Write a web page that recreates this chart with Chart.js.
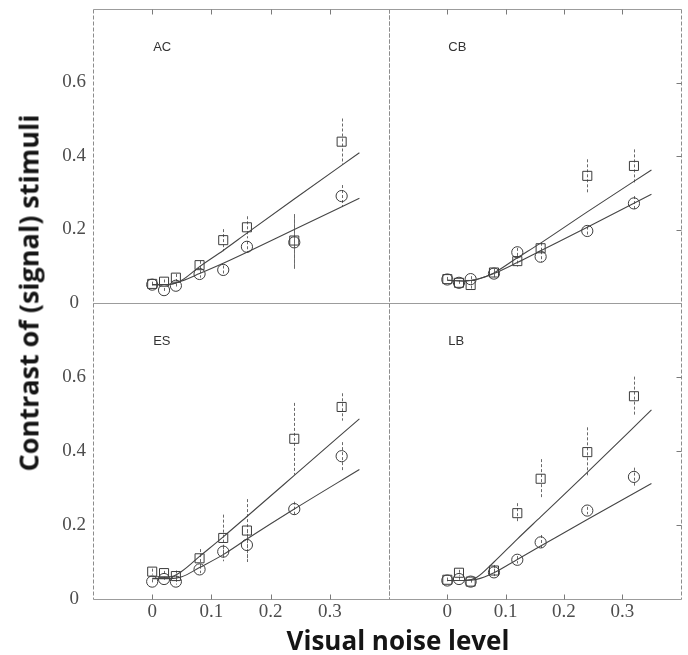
<!DOCTYPE html>
<html>
<head>
<meta charset="utf-8">
<title>Contrast of (signal) stimuli vs visual noise level</title>
<script src="https://cdn.jsdelivr.net/npm/chart.js@4.4.1/dist/chart.umd.min.js"></script>
<style>
  html, body { margin: 0; padding: 0; background: #fff; }
  #figure { position: relative; width: 688px; height: 655px; overflow: hidden; }
  #figure canvas { position: absolute; left: 0; top: 0; }
  .axis-title {
    position: absolute;
    font-family: "Open Sans", sans-serif;
    font-weight: 700;
    color: #151515;
    white-space: nowrap;
    line-height: 1;
  }
  #xTitle { left: 398px; top: 627px; font-size: 26px; transform: translateX(-50%); }
  #yTitle { left: 28px; top: 293px; font-size: 27px; transform: translate(-50%, -50%) rotate(-90deg); }
</style>
</head>
<body>
<div id="figure">
  <canvas id="panelAC" width="688" height="655"></canvas>
  <canvas id="panelCB" width="688" height="655"></canvas>
  <canvas id="panelES" width="688" height="655"></canvas>
  <canvas id="panelLB" width="688" height="655"></canvas>
  <div class="axis-title" id="xTitle">Visual noise level</div>
  <div class="axis-title" id="yTitle">Contrast of (signal) stimuli</div>
</div>
<script>
// noise levels where thresholds were measured
const noiseLevels = [0, 0.02, 0.04, 0.08, 0.12, 0.16, 0.24, 0.32];
// noise levels sampled along the fitted curves
const fitLevels = [0, 0.03, 0.05, 0.08, 0.12, 0.16, 0.24, 0.35];
const xTickValues = [0, 0.1, 0.2, 0.3];
const yTickValues = [0, 0.2, 0.4, 0.6];
const observers = ["AC", "CB", "ES", "LB"];

// AC
const acSquare = [0.052, 0.058, 0.069, 0.103, 0.171, 0.206, 0.170, 0.439];
const acSquareErr = [0.006, 0.006, 0.01, 0.012, 0.03, 0.03, 0.072, 0.063];
const acCircle = [0.050, 0.035, 0.047, 0.079, 0.090, 0.153, 0.165, 0.291];
const acCircleErr = [0.006, 0.006, 0.006, 0.01, 0.012, 0.015, 0.072, 0.03];
const acFitSquare = [0.05, 0.051, 0.062, 0.099, 0.143, 0.19, 0.283, 0.409];
const acFitCircle = [0.05, 0.051, 0.06, 0.08, 0.108, 0.138, 0.2, 0.285];

// CB
const cbSquare = [0.065, 0.055, 0.049, 0.083, 0.114, 0.149, 0.346, 0.373];
const cbSquareErr = [0.006, 0.006, 0.012, 0.01, 0.015, 0.015, 0.045, 0.045];
const cbCircle = [0.064, 0.055, 0.065, 0.080, 0.138, 0.126, 0.196, 0.271];
const cbCircleErr = [0.006, 0.006, 0.008, 0.01, 0.012, 0.015, 0.012, 0.02];
const cbFitSquare = [0.062, 0.06, 0.064, 0.082, 0.123, 0.163, 0.248, 0.362];
const cbFitCircle = [0.062, 0.06, 0.064, 0.08, 0.11, 0.142, 0.206, 0.296];

// ES
const esSquare = [0.074, 0.070, 0.062, 0.110, 0.165, 0.185, 0.433, 0.519];
const esSquareErr = [0.008, 0.006, 0.015, 0.025, 0.063, 0.085, 0.097, 0.037];
const esCircle = [0.047, 0.054, 0.047, 0.080, 0.128, 0.146, 0.243, 0.386];
const esCircleErr = [0.006, 0.006, 0.008, 0.01, 0.015, 0.04, 0.02, 0.038];
const esFitSquare = [0.06, 0.06, 0.075, 0.115, 0.168, 0.223, 0.334, 0.487];
const esFitCircle = [0.055, 0.055, 0.06, 0.085, 0.12, 0.162, 0.243, 0.35];

// LB
const lbSquare = [0.052, 0.071, 0.047, 0.077, 0.232, 0.325, 0.397, 0.548];
const lbSquareErr = [0.006, 0.008, 0.006, 0.015, 0.027, 0.053, 0.067, 0.053];
const lbCircle = [0.050, 0.054, 0.047, 0.072, 0.106, 0.153, 0.239, 0.330];
const lbCircleErr = [0.006, 0.006, 0.006, 0.01, 0.01, 0.02, 0.01, 0.025];
const lbFitSquare = [0.05, 0.05, 0.058, 0.1, 0.162, 0.222, 0.342, 0.511];
const lbFitCircle = [0.05, 0.05, 0.053, 0.071, 0.107, 0.143, 0.215, 0.312];

const observerData = {
  AC: { square: acSquare, squareErr: acSquareErr, circle: acCircle, circleErr: acCircleErr, fitSquare: acFitSquare, fitCircle: acFitCircle },
  CB: { square: cbSquare, squareErr: cbSquareErr, circle: cbCircle, circleErr: cbCircleErr, fitSquare: cbFitSquare, fitCircle: cbFitCircle },
  ES: { square: esSquare, squareErr: esSquareErr, circle: esCircle, circleErr: esCircleErr, fitSquare: esFitSquare, fitCircle: esFitCircle },
  LB: { square: lbSquare, squareErr: lbSquareErr, circle: lbCircle, circleErr: lbCircleErr, fitSquare: lbFitSquare, fitCircle: lbFitCircle },
};

// panel rectangles on the page: left, top, right, bottom
const panelBoxes = [
  [93, 9, 389, 303],
  [389, 9, 684, 303],
  [93, 303, 389, 599],
  [389, 303, 684, 599],
];
const pageW = 688;
const pageH = 655;

const toPoints = (xs, ys) => xs.map((x, i) => ({ x, y: ys[i] }));
const crisp = v => Math.round(v) + 0.5;

// box outline, inward tick marks and the observer tag
const panelFrame = {
  id: "panelFrame",
  beforeDatasetsDraw(chart, args, opts) {
    const { ctx, chartArea: a, scales } = chart;
    const L = crisp(a.left), R = crisp(a.right), T = crisp(a.top), B = crisp(a.bottom);
    ctx.save();
    ctx.lineWidth = 1;
    ctx.strokeStyle = "#9c9c9c";
    ctx.beginPath();
    ctx.moveTo(L, T); ctx.lineTo(R, T);
    ctx.moveTo(L, B); ctx.lineTo(R, B);
    ctx.stroke();

    ctx.setLineDash([4, 2]);
    ctx.strokeStyle = "#8c8c8c";
    ctx.beginPath();
    ctx.moveTo(L, T); ctx.lineTo(L, B);
    ctx.moveTo(R, T); ctx.lineTo(R, B);
    ctx.stroke();
    ctx.setLineDash([]);

    ctx.strokeStyle = "#7a7a7a";
    ctx.beginPath();
    xTickValues.forEach(v => {
      const x = crisp(scales.x.getPixelForValue(v));
      if (opts.topTicks) { ctx.moveTo(x, T); ctx.lineTo(x, T + 5); }
      if (opts.bottomTicks) { ctx.moveTo(x, B); ctx.lineTo(x, B - 5); }
    });
    if (opts.rightTicks) {
      yTickValues.filter(v => v > 0).forEach(v => {
        const y = crisp(scales.y.getPixelForValue(v));
        ctx.moveTo(R, y); ctx.lineTo(R - 5, y);
      });
    }
    ctx.stroke();

    ctx.fillStyle = "#333";
    ctx.font = "13px 'Liberation Sans', Arial, sans-serif";
    ctx.textBaseline = "middle";
    ctx.fillText(opts.label, scales.x.getPixelForValue(0) + 1, a.top + 38);
    ctx.restore();
  },
};

// dashed vertical error bars for any dataset carrying an `errors` array
const errorBars = {
  id: "errorBars",
  beforeDatasetsDraw(chart) {
    const { ctx, scales: { x, y } } = chart;
    ctx.save();
    ctx.strokeStyle = "#6a6a6a";
    ctx.lineWidth = 1;
    ctx.setLineDash([3, 2]);
    chart.data.datasets.forEach(ds => {
      if (!ds.errors) return;
      ds.data.forEach((p, i) => {
        const e = ds.errors[i];
        const px = crisp(x.getPixelForValue(p.x));
        ctx.beginPath();
        ctx.moveTo(px, y.getPixelForValue(p.y + e));
        ctx.lineTo(px, y.getPixelForValue(p.y - e));
        ctx.stroke();
      });
    });
    ctx.restore();
  },
};

// tick numbers are set in a Times-like face
Chart.defaults.font.family = "'Liberation Serif', 'Times New Roman', serif";
Chart.defaults.font.size = 19;
Chart.defaults.color = "#4d4d4d";

const drawPanels = () => {
  observers.forEach((name, idx) => {
    const d = observerData[name];
    const [left, top, right, bottom] = panelBoxes[idx];
    const col = idx % 2;
    const row = Math.floor(idx / 2);
    const yAxisW = col === 0 ? left : 0;
    const xAxisH = row === 1 ? pageH - bottom : 0;

    new Chart(document.getElementById("panel" + name), {
      type: "scatter",
      data: {
        datasets: [
          {
            type: "line",
            data: toPoints(fitLevels, d.fitSquare),
            borderColor: "#454545",
            borderWidth: 1.1,
            pointRadius: 0,
            cubicInterpolationMode: "monotone",
          },
          {
            type: "line",
            data: toPoints(fitLevels, d.fitCircle),
            borderColor: "#454545",
            borderWidth: 1.1,
            pointRadius: 0,
            cubicInterpolationMode: "monotone",
          },
          {
            data: toPoints(noiseLevels, d.square),
            errors: d.squareErr,
            pointStyle: "rect",
            pointRadius: 6.4,
            borderColor: "#3c3c3c",
            borderWidth: 1,
            backgroundColor: "rgba(0,0,0,0)",
          },
          {
            data: toPoints(noiseLevels, d.circle),
            errors: d.circleErr,
            pointStyle: "circle",
            pointRadius: 5.6,
            borderColor: "#3c3c3c",
            borderWidth: 1,
            backgroundColor: "rgba(0,0,0,0)",
          },
        ],
      },
      options: {
        responsive: false,
        animation: false,
        events: [],
        layout: {
          padding: {
            left: left - yAxisW,
            top: top,
            right: pageW - right,
            bottom: pageH - bottom - xAxisH,
          },
        },
        scales: {
          x: {
            type: "linear",
            min: -0.1,
            max: 0.4,
            grid: { display: false, drawTicks: false },
            border: { display: false },
            afterBuildTicks: s => { s.ticks = xTickValues.map(value => ({ value })); },
            afterFit: s => { s.height = xAxisH; s.paddingLeft = 0; s.paddingRight = 0; },
            ticks: {
              display: row === 1,
              padding: 2,
              maxRotation: 0,
              autoSkip: false,
              callback: v => String(v),
            },
          },
          y: {
            type: "linear",
            min: 0,
            max: 0.8,
            grid: { display: false, drawTicks: false },
            border: { display: false },
            afterBuildTicks: s => { s.ticks = yTickValues.map(value => ({ value })); },
            afterFit: s => { s.width = yAxisW; s.paddingTop = 0; s.paddingBottom = 0; },
            ticks: {
              display: col === 0,
              padding: 7,
              crossAlign: "center",
              autoSkip: false,
              callback: v => String(v),
            },
          },
        },
        plugins: {
          legend: { display: false },
          tooltip: { enabled: false },
          panelFrame: {
            label: name,
            topTicks: row === 0,
            bottomTicks: row === 1,
            rightTicks: col === 1,
          },
        },
      },
      plugins: [errorBars, panelFrame],
    });
  });
};

// make sure the canvas text fonts are ready before drawing
Promise.all([
  document.fonts.load("19px 'Liberation Serif'"),
  document.fonts.load("13px 'Liberation Sans'"),
]).then(drawPanels, drawPanels);
</script>
</body>
</html>
